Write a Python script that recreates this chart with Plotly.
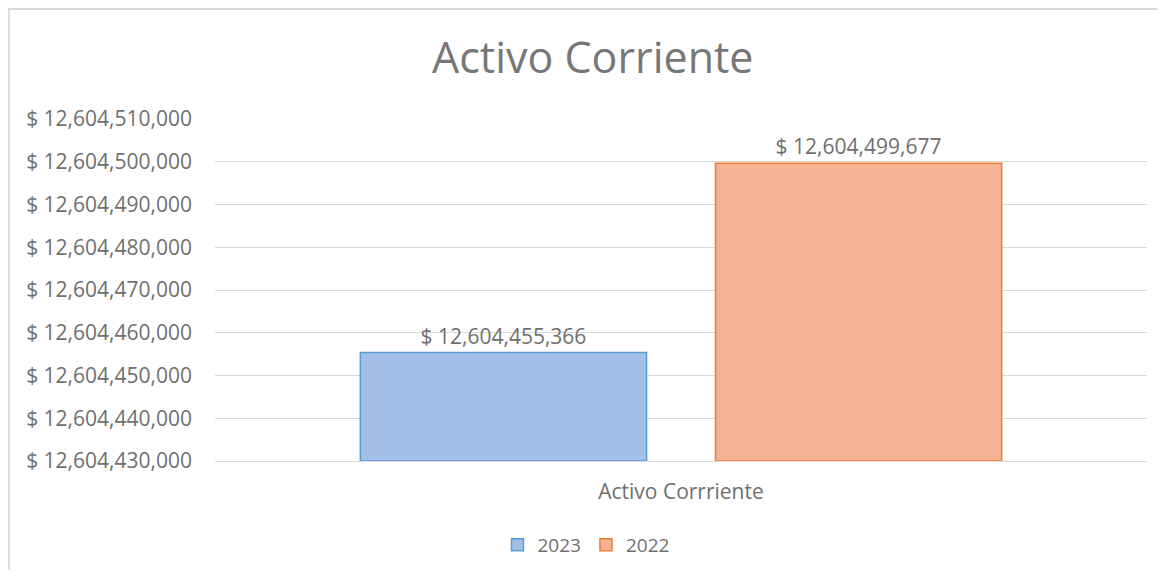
import plotly.graph_objects as go

categories = ["Activo Corrriente"]
series_names = ["2023", "2022"]
values_2023 = [12604455366]
values_2022 = [12604499677]
y_min = 12604430000
y_max = 12604510000
y_step = 10000

fills = ["#a2c0e5", "#f6b294"]
borders = ["#5b9bd5", "#ed7d31"]
font_family = "Open Sans, Liberation Sans, sans-serif"
txt = "#6f6f6f"

W, H = 1150, 562
ML, MR, MT, MB = 207, 11, 111, 109
PW, PH = W - ML - MR, H - MT - MB

fig = go.Figure()
for name, vals, fc, lc in zip(series_names, [values_2023, values_2022], fills, borders):
    fig.add_trace(go.Bar(
        name=name,
        x=categories,
        y=[v - y_min for v in vals],
        base=[y_min] * len(vals),
        customdata=vals,
        texttemplate="$ %{customdata:,.0f}",
        textposition="outside",
        cliponaxis=False,
        textfont=dict(family=font_family, size=21, color=txt),
        marker=dict(color=fc, line=dict(color=lc, width=1.5)),
    ))

frame = dict(color="#d9d9d9", width=2)
fig.update_layout(
    width=W, height=H,
    margin=dict(l=ML, r=MR, t=MT, b=MB, autoexpand=False),
    paper_bgcolor="white", plot_bgcolor="white",
    barmode="group", bargap=0.238, bargroupgap=0.194,
    title=dict(text="Activo Corriente", x=0.5085, xanchor="center", y=1 - 50 / H, yanchor="middle",
               font=dict(family=font_family, size=43, color="#777777")),
    font=dict(family=font_family, color=txt),
    legend=dict(orientation="h", x=(578 - ML) / PW, xanchor="center", y=-84 / PH, yanchor="middle",
                bgcolor="rgba(0,0,0,0)", itemwidth=30,
                font=dict(family=font_family, size=19, color=txt), traceorder="normal"),
    shapes=[
        dict(type="line", xref="paper", yref="paper", x0=-ML / PW + 0.001, x1=-ML / PW + 0.001,
             y0=-MB / PH, y1=1 + MT / PH, line=frame, layer="below"),
        dict(type="line", xref="paper", yref="paper", x0=-ML / PW, x1=1 + MR / PW,
             y0=1 + MT / PH - 0.003, y1=1 + MT / PH - 0.003, line=frame, layer="below"),
    ],
)
fig.update_xaxes(showgrid=False, showline=True, linecolor="#d9d9d9", linewidth=1,
                 tickfont=dict(family=font_family, size=21, color=txt), ticks="", ticklabelstandoff=12)
fig.update_yaxes(range=[y_min, y_max], dtick=y_step, tick0=y_min, showgrid=True, gridcolor="#d9d9d9",
                 gridwidth=1, zeroline=False, showline=False, tickformat=",.0f", tickprefix="$ ",
                 tickfont=dict(family=font_family, size=21, color=txt), ticks="", ticklabelstandoff=22)

fig.write_html("out.html")
